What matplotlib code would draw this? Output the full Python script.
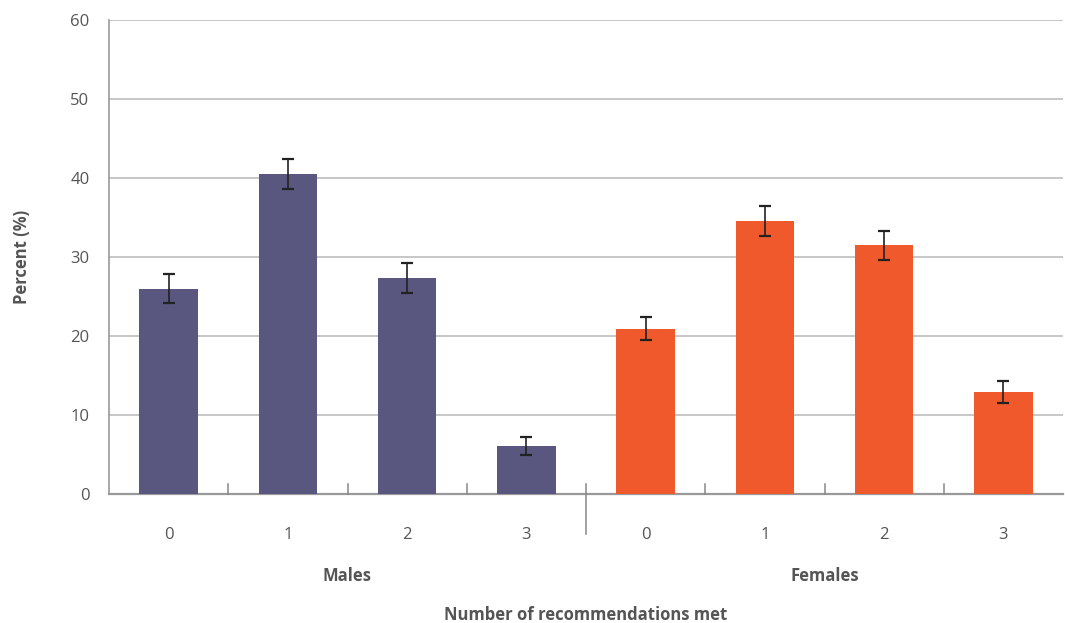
import matplotlib
matplotlib.use("Agg")
import matplotlib.pyplot as plt
import numpy as np

plt.rcParams["font.family"] = ["Open Sans", "DejaVu Sans"]

# data
groups = ["Males", "Females"]
categories = ["0", "1", "2", "3"]
males = [26.0, 40.5, 27.3, 6.1]
males_err = [1.8, 1.9, 1.9, 1.1]
females = [20.9, 34.6, 31.5, 12.9]
females_err = [1.45, 1.9, 1.85, 1.4]
yticks = [0, 10, 20, 30, 40, 50, 60]

male_color = "#59567F"
female_color = "#EF592B"
grid_color = "#BDBDBD"
text_color = "#555555"

fig = plt.figure(figsize=(10.65, 6.23), dpi=100)
ax = fig.add_axes([109 / 1065, 129 / 623, 954 / 1065, 474 / 623])

n = len(categories)
x_m = np.arange(n)
x_f = np.arange(n) + n
err_kw = dict(ecolor="#222222", elinewidth=1.2, capsize=4, capthick=1.6)
ax.bar(x_m, males, width=0.49, color=male_color, yerr=males_err, error_kw=err_kw, zorder=3)
ax.bar(x_f, females, width=0.49, color=female_color, yerr=females_err, error_kw=err_kw, zorder=3)

ax.set_xlim(-0.5, 2 * n - 0.5)
ax.set_ylim(0, 60)
ax.set_yticks(yticks)
ax.yaxis.grid(True, color=grid_color, linewidth=1.2, zorder=0)
ax.tick_params(axis="y", length=0, pad=14, labelsize=12, labelcolor=text_color)

ax.set_xticks(list(x_m) + list(x_f))
ax.set_xticklabels(categories * 2)
ax.tick_params(axis="x", length=0, pad=24, labelsize=12, labelcolor=text_color)

for s in ["top", "right"]:
    ax.spines[s].set_visible(False)
ax.spines["left"].set_color("#999999")
ax.spines["left"].set_linewidth(1.2)
ax.spines["bottom"].set_color("#999999")
ax.spines["bottom"].set_linewidth(1.6)

# small inside ticks between categories, longer separator between groups
trans = ax.get_xaxis_transform()
for b in np.arange(0.5, 2 * n - 1, 1.0):
    if b == n - 0.5:
        ax.plot([b, b], [0.021, -0.085], transform=trans, color="#888888",
                linewidth=1.1, clip_on=False, zorder=4)
    else:
        ax.plot([b, b], [0, 0.021], transform=trans, color="#888888",
                linewidth=1.1, clip_on=False, zorder=4)

# group labels
for i, g in enumerate(groups):
    ax.text(i * n + (n - 1) / 2, -0.172, g, transform=trans, ha="center", va="center",
            fontsize=12, fontweight="bold", color=text_color)

fig.text(586 / 1065, 8 / 623, "Number of recommendations met", ha="center", va="center",
         fontsize=12, fontweight="bold", color=text_color)
fig.text(22 / 1065, 1 - 257 / 623, "Percent (%)", rotation=90, ha="center", va="center",
         fontsize=12, fontweight="bold", color=text_color)

fig.savefig("out.png", dpi=100)
